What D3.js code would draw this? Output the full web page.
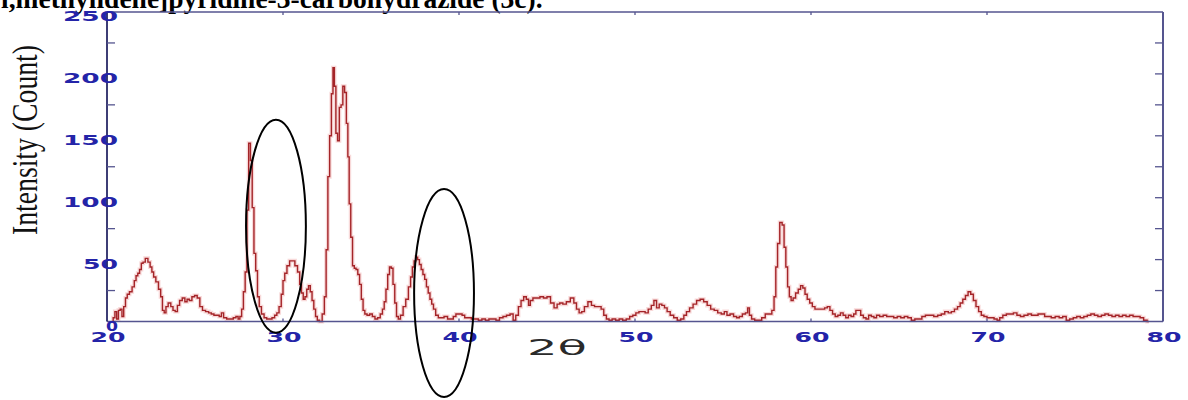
<!DOCTYPE html>
<html>
<head>
<meta charset="utf-8">
<script src="https://cdn.jsdelivr.net/npm/d3@7"></script>
<style>
  html, body { margin: 0; padding: 0; background: #fff; }
  svg { display: block; }
</style>
</head>
<body>
<svg id="chart" width="1188" height="400"></svg>
<script>
// XRD pattern: diffraction angle (2θ, degrees) and intensity (counts)
const twoTheta = [
  20.3, 20.4, 20.5, 20.6, 20.7, 20.8, 20.9, 21.0, 21.1, 21.2, 21.35, 21.5, 21.6, 21.7, 21.8, 21.9,
  22.0, 22.1, 22.25, 22.4, 22.5, 22.6, 22.7, 22.85, 23.0, 23.1, 23.2, 23.3, 23.4, 23.55, 23.7, 23.8,
  23.95, 24.05, 24.2, 24.35, 24.5, 24.6, 24.75, 24.9, 25.05, 25.2, 25.35, 25.5, 25.7, 25.85, 26.0, 26.15,
  26.3, 26.45, 26.55, 26.7, 26.9, 27.1, 27.25, 27.4, 27.5, 27.6, 27.7, 27.8, 27.9, 28.0, 28.1, 28.2,
  28.3, 28.4, 28.5, 28.6, 28.7, 28.85, 29.0, 29.15, 29.3, 29.45, 29.6, 29.7, 29.85, 29.95, 30.05, 30.15,
  30.3, 30.45, 30.6, 30.75, 30.9, 31.0, 31.1, 31.2, 31.3, 31.4, 31.5, 31.6, 31.7, 31.8, 31.9, 32.0,
  32.15, 32.3, 32.4, 32.5, 32.6, 32.7, 32.8, 32.88, 32.96, 33.05, 33.15, 33.25, 33.35, 33.45, 33.55, 33.65,
  33.72, 33.8, 33.9, 34.0, 34.1, 34.2, 34.3, 34.4, 34.5, 34.6, 34.7, 34.85, 35.0, 35.15, 35.3, 35.45,
  35.6, 35.7, 35.8, 35.9, 36.0, 36.1, 36.2, 36.3, 36.4, 36.5, 36.6, 36.75, 36.9, 37.05, 37.2, 37.3,
  37.4, 37.5, 37.6, 37.7, 37.8, 37.9, 38.0, 38.1, 38.2, 38.3, 38.4, 38.5, 38.6, 38.75, 38.9, 39.05,
  39.25, 39.45, 39.6, 39.75, 39.9, 40.1, 40.25, 40.4, 40.6, 40.8, 41.0, 41.2, 41.4, 41.6, 41.8, 42.0,
  42.2, 42.4, 42.6, 42.8, 43.0, 43.15, 43.3, 43.45, 43.6, 43.75, 43.9, 44.0, 44.1, 44.3, 44.5, 44.7,
  44.9, 45.1, 45.3, 45.5, 45.65, 45.8, 46.0, 46.2, 46.45, 46.6, 46.75, 46.9, 47.05, 47.2, 47.45, 47.6,
  47.8, 48.0, 48.15, 48.3, 48.45, 48.6, 48.8, 49.0, 49.2, 49.4, 49.6, 49.8, 49.95, 50.15, 50.3, 50.5,
  50.65, 50.85, 51.0, 51.15, 51.3, 51.45, 51.6, 51.75, 51.9, 52.1, 52.3, 52.5, 52.7, 52.85, 53.0, 53.2,
  53.4, 53.6, 53.8, 54.0, 54.2, 54.4, 54.6, 54.8, 55.0, 55.15, 55.3, 55.5, 55.7, 55.85, 56.0, 56.2,
  56.35, 56.45, 56.55, 56.7, 56.9, 57.1, 57.3, 57.5, 57.7, 57.85, 57.95, 58.05, 58.15, 58.3, 58.42, 58.52,
  58.62, 58.72, 58.82, 58.92, 59.05, 59.2, 59.35, 59.47, 59.6, 59.72, 59.85, 60.0, 60.15, 60.3, 60.5, 60.7,
  60.85, 61.0, 61.15, 61.3, 61.45, 61.6, 61.75, 61.9, 62.05, 62.2, 62.35, 62.5, 62.6, 62.75, 62.9, 63.05,
  63.2, 63.35, 63.5, 63.65, 63.8, 64.0, 64.2, 64.4, 64.6, 64.8, 65.0, 65.2, 65.4, 65.6, 65.8, 66.0,
  66.2, 66.4, 66.6, 66.85, 67.1, 67.3, 67.5, 67.7, 67.9, 68.05, 68.25, 68.4, 68.55, 68.7, 68.85, 69.0,
  69.15, 69.3, 69.45, 69.6, 69.75, 69.9, 70.1, 70.3, 70.5, 70.65, 70.8, 71.0, 71.2, 71.4, 71.6, 71.8,
  72.0, 72.2, 72.45, 72.6, 72.8, 73.0, 73.2, 73.35, 73.55, 73.75, 74.0, 74.2, 74.4, 74.6, 74.8, 75.0,
  75.2, 75.4, 75.6, 75.8, 76.0, 76.2, 76.4, 76.6, 76.8, 77.0, 77.2, 77.4, 77.6, 77.8, 78.0, 78.2,
  78.4, 78.6, 78.8, 79.0, 79.2
];
const counts = [
  0, 3, 8, 2, 9, 10, 4, 12, 19, 22, 24, 28, 33, 37, 39, 42,
  47, 48, 51, 48, 44, 40, 36, 32, 26, 20, 9, 7, 12, 15, 12, 9,
  8, 13, 17, 19, 16, 18, 17, 20, 21, 19, 12, 9, 8, 7, 6, 5,
  5, 4, 7, 3, 2, 2, 3, 4, 2, 4, 10, 24, 40, 90, 144, 130,
  92, 55, 41, 20, 12, 6, 3, 2, 2, 3, 5, 7, 12, 22, 33, 39,
  45, 49, 49, 45, 40, 30, 23, 18, 20, 26, 29, 24, 17, 10, 4, 1,
  0, 6, 20, 58, 117, 150, 184, 205, 190, 152, 146, 173, 175, 190, 185, 160,
  133, 95, 68, 45, 43, 42, 38, 30, 18, 9, 6, 5, 6, 4, 2, 3,
  6, 10, 16, 26, 38, 44, 43, 30, 15, 4, 2, 5, 12, 18, 28, 36,
  44, 49, 52, 50, 46, 42, 38, 34, 28, 23, 18, 14, 10, 5, 3, 3,
  4, 2, 2, 4, 6, 6, 5, 3, 3, 2, 2, 1, 2, 1, 2, 2,
  1, 3, 4, 5, 6, 1, 5, 12, 17, 20, 18, 13, 17, 19, 19, 20,
  19, 20, 15, 11, 14, 15, 14, 16, 19, 15, 10, 7, 8, 12, 16, 13,
  12, 12, 10, 5, 2, 1, 2, 1, 2, 1, 2, 4, 5, 7, 8, 8,
  7, 10, 13, 17, 11, 14, 13, 11, 8, 5, 3, 1, 2, 5, 8, 11,
  14, 17, 18, 16, 13, 10, 9, 7, 6, 8, 5, 6, 4, 3, 4, 6,
  7, 11, 5, 2, 1, 1, 3, 6, 6, 9, 20, 44, 63, 80, 78, 60,
  44, 28, 20, 17, 19, 23, 26, 29, 27, 22, 18, 15, 12, 10, 10, 10,
  11, 12, 9, 6, 4, 5, 7, 5, 3, 5, 4, 6, 9, 9, 5, 3,
  2, 5, 4, 3, 5, 4, 5, 4, 4, 3, 4, 3, 4, 3, 1, 2,
  2, 4, 5, 5, 4, 5, 6, 8, 7, 8, 10, 12, 15, 18, 21, 24,
  22, 17, 12, 8, 5, 4, 3, 3, 2, 1, 3, 5, 6, 6, 7, 5,
  4, 5, 6, 5, 5, 6, 6, 4, 4, 3, 4, 3, 4, 1, 2, 3,
  4, 3, 4, 5, 6, 5, 4, 5, 6, 5, 4, 5, 4, 5, 4, 5,
  4, 4, 3, 1, 0
];

// Axis ticks
const xTickValues = [20, 30, 40, 50, 60, 70, 80];
const yTickValues = [0, 50, 100, 150, 200, 250];
const yMinorTicks = [25, 50, 75, 100, 125, 150, 175, 200, 225];
const yMinorTicksLeft = [25, 75, 125, 175, 225];

// Hand-drawn highlight ellipses, in data units: [2θ centre, count centre] and [2θ radius, count radius]
const highlightCentres = [[29.6, 77], [39.15, 23]];
const highlightRadii = [[1.7, 86], [1.7, 84]];

const titleText = "l,methylidene]pyridine-3-carbohydrazide (3c).";
const xLabel = "2θ";
const yLabel = "Intensity (Count)";

const svg = d3.select("#chart");
const W = 1188, H = 400;
svg.append("rect").attr("width", W).attr("height", H).attr("fill", "#fff");

const plotLeft = 107, plotRight = 1163, plotTop = 12, plotBottom = 321.5;
const x = d3.scaleLinear().domain([20, 80]).range([plotLeft, plotRight]);
const y = d3.scaleLinear().domain([0, 250]).range([plotBottom, plotTop]);

const axisColor = "#55558f";
const labelBlue = "#2424a8";

// Caption line running off the top edge of the page
svg.append("text")
  .attr("x", 1).attr("y", 7.5)
  .attr("font-family", "'Liberation Serif', 'Times New Roman', serif")
  .attr("font-weight", "bold")
  .attr("font-size", 27.5)
  .attr("fill", "#000")
  .text(titleText);

// Data trace (stepped), with a soft halo under the main stroke
const points = twoTheta.map((t, i) => [t, counts[i]]);
const line = d3.line().x(d => x(d[0])).y(d => y(d[1])).curve(d3.curveStep);

svg.append("path").datum(points)
  .attr("d", line)
  .attr("fill", "none")
  .attr("stroke", "#f3b9b9")
  .attr("stroke-width", 4)
  .attr("stroke-opacity", 0.55);
svg.append("path").datum(points)
  .attr("d", line)
  .attr("fill", "none")
  .attr("stroke", "#a42428")
  .attr("stroke-width", 1.4);

// Frame
const frame = svg.append("g").attr("stroke", axisColor).attr("fill", "none");
frame.append("line").attr("x1", plotLeft).attr("x2", plotRight).attr("y1", plotTop).attr("y2", plotTop).attr("stroke-width", 1.5);
frame.append("line").attr("x1", plotLeft).attr("x2", plotRight).attr("y1", plotBottom).attr("y2", plotBottom).attr("stroke-width", 1.5);
frame.append("line").attr("x1", plotLeft).attr("x2", plotLeft).attr("y1", plotTop).attr("y2", plotBottom).attr("stroke-width", 2).attr("stroke", "#3d3d75");
frame.append("line").attr("x1", plotRight).attr("x2", plotRight).attr("y1", plotTop).attr("y2", plotBottom).attr("stroke-width", 2);

// Inward ticks
const ticks = svg.append("g").attr("stroke", axisColor).attr("stroke-width", 1.3);
ticks.selectAll(".rt").data(yMinorTicks).join("line")
  .attr("x1", plotRight - 8).attr("x2", plotRight)
  .attr("y1", d => y(d)).attr("y2", d => y(d));
ticks.selectAll(".lt").data(yMinorTicksLeft).join("line")
  .attr("x1", plotLeft).attr("x2", plotLeft + 8)
  .attr("y1", d => y(d)).attr("y2", d => y(d));
ticks.selectAll(".bt").data(xTickValues.slice(1, -1)).join("line")
  .attr("x1", d => x(d)).attr("x2", d => x(d))
  .attr("y1", plotBottom - 3).attr("y2", plotBottom);
ticks.selectAll(".tt").data(xTickValues.slice(1, -1)).join("line")
  .attr("x1", d => x(d)).attr("x2", d => x(d))
  .attr("y1", plotTop).attr("y2", plotTop + 3);

// Tick labels: wide bold blue digits
const tickFont = "'DejaVu Sans', Verdana, sans-serif";
const widthFor = s => s.length === 3 ? 55 : (s.length === 2 ? 35 : 12);

svg.append("g").selectAll("text").data(yTickValues).join("text")
  .attr("x", plotLeft + 11)
  .attr("y", d => y(d) + 9)
  .attr("text-anchor", "end")
  .attr("font-family", tickFont)
  .attr("font-weight", "bold")
  .attr("font-size", 13.5)
  .attr("fill", labelBlue)
  .attr("textLength", d => widthFor(String(d)))
  .attr("lengthAdjust", "spacingAndGlyphs")
  .text(d => String(d));

svg.append("g").selectAll("text").data(xTickValues).join("text")
  .attr("x", d => x(d) + 1)
  .attr("y", 342)
  .attr("text-anchor", "middle")
  .attr("font-family", tickFont)
  .attr("font-weight", "bold")
  .attr("font-size", 13.5)
  .attr("fill", labelBlue)
  .attr("textLength", d => widthFor(String(d)))
  .attr("lengthAdjust", "spacingAndGlyphs")
  .text(d => String(d));

// Axis titles
svg.append("text")
  .attr("x", 527).attr("y", 355)
  .attr("font-family", "'DejaVu Sans', sans-serif")
  .attr("font-size", 22)
  .attr("fill", "#2a2a2a")
  .attr("textLength", 60)
  .attr("lengthAdjust", "spacingAndGlyphs")
  .text(xLabel);

svg.append("text")
  .attr("transform", "translate(37,140) rotate(-90)")
  .attr("text-anchor", "middle")
  .attr("font-family", "'Liberation Serif', 'Times New Roman', serif")
  .attr("font-size", 36)
  .attr("fill", "#111")
  .attr("textLength", 190)
  .attr("lengthAdjust", "spacingAndGlyphs")
  .text(yLabel);

// Highlight ellipses
svg.append("g").selectAll("ellipse").data(highlightCentres).join("ellipse")
  .attr("cx", d => x(d[0]))
  .attr("cy", d => y(d[1]))
  .attr("rx", (d, i) => x(20 + highlightRadii[i][0]) - x(20))
  .attr("ry", (d, i) => y(0) - y(highlightRadii[i][1]))
  .attr("fill", "none")
  .attr("stroke", "#000")
  .attr("stroke-width", 2);
</script>
</body>
</html>
